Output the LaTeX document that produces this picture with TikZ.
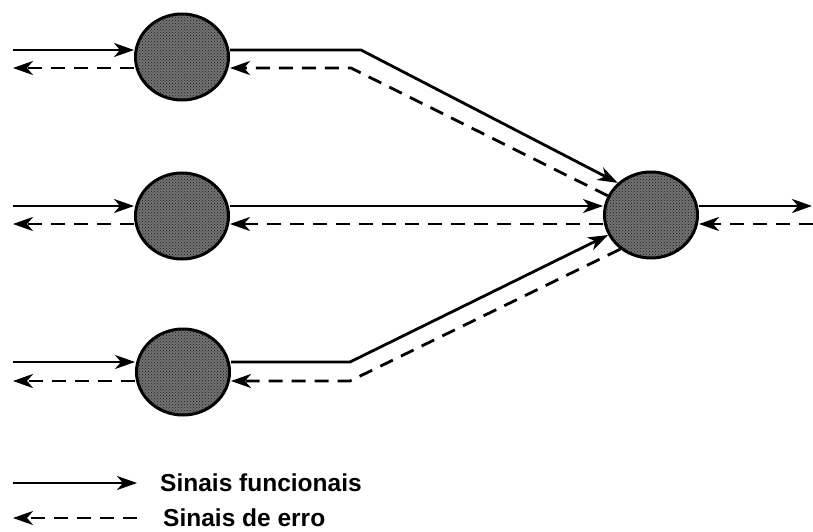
\documentclass[tikz,border=0pt]{standalone}
\usepackage{fontspec}
\setmainfont{Liberation Sans}
\usetikzlibrary{arrows.meta,shapes.geometric,patterns}

\begin{document}
\begin{tikzpicture}[x=1pt,y=-1pt,
  neuron/.style={ellipse, draw=black, line width=3pt, fill=black!55,
    minimum width=93pt, minimum height=86pt, inner sep=0pt,
    postaction={pattern=crosshatch dots, pattern color=black!90}},
  sigtip/.style={-{Stealth[length=20pt,width=14pt,inset=6pt]}},
  fsig/.style={sigtip, line width=2.8pt},
  esig/.style={sigtip, line width=2.8pt, dash pattern=on 14pt off 9pt},
  legend/.style={font=\bfseries\fontsize{24.5}{29}\selectfont, inner sep=0pt}]

\useasboundingbox (0,0) rectangle (813,532);

% neurons
\node[neuron] (h1) at (182,57) {};
\node[neuron] (h2) at (182,216) {};
\node[neuron] (h3) at (183,372) {};
\node[neuron] (o)  at (651,215) {};

% levels and bends
\coordinate (a1) at (13,50);  \coordinate (b1) at (13,68);
\coordinate (a2) at (13,206); \coordinate (b2) at (13,224);
\coordinate (a3) at (13,362); \coordinate (b3) at (13,381);
\coordinate (k1) at (361,50);  \coordinate (d1) at (351,68);
\coordinate (k3) at (350,362); \coordinate (d3) at (350,381);
\coordinate (oa) at (812,206); \coordinate (ob) at (813,224);

% inputs to hidden neurons
\draw[fsig] (a1) -- (h1.west |- a1);
\draw[esig] (h1.west |- b1) -- (b1);
\draw[fsig] (a2) -- (h2.west |- a2);
\draw[esig] (h2.west |- b2) -- (b2);
\draw[fsig] (a3) -- (h3.west |- a3);
\draw[esig] (h3.west |- b3) -- (b3);

% hidden neurons to output neuron
\draw[fsig] (h1.east |- k1) -- (k1) -- (o.136);
\draw[esig] (o.156) -- (d1) -- (h1.east |- d1);
\draw[fsig] (h2.east |- a2) -- (o.west |- a2);
\draw[esig] (o.west |- b2) -- (h2.east |- b2);
\draw[fsig] (h3.east |- k3) -- (k3) -- (o.205);
\draw[esig] (o.228) -- (d3) -- (h3.east |- d3);

% output
\draw[fsig] (o.east |- oa) -- (oa);
\draw[esig] (ob) -- (o.east |- ob);

% legend
\coordinate (la) at (13,483);  \coordinate (lb) at (137,483);
\coordinate (lc) at (13,518);  \coordinate (ld) at (137,518);
\draw[fsig] (la) -- (lb);
\draw[esig] (ld) -- (lc);
\node[legend, anchor=base west] (t1) at (160,491) {Sinais funcionais};
\node[legend, anchor=base west] (t2) at (163,526) {Sinais de erro};
\end{tikzpicture}
\end{document}
